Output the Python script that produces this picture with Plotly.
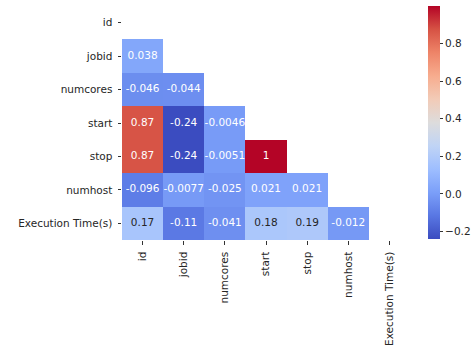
import plotly.graph_objects as go

# Correlation matrix of job attributes (lower triangle, diagonal masked)
labels = ["id", "jobid", "numcores", "start", "stop", "numhost", "Execution Time(s)"]
row_jobid = [0.038]
row_numcores = [-0.046, -0.044]
row_start = [0.87, -0.24, -0.0046]
row_stop = [0.87, -0.24, -0.0051, 1]
row_numhost = [-0.096, -0.0077, -0.025, 0.021, 0.021]
row_exec = [0.17, -0.11, -0.041, 0.18, 0.19, -0.012]

lower_rows = [[], row_jobid, row_numcores, row_start, row_stop, row_numhost, row_exec]
n = len(labels)
z = [r + [None] * (n - len(r)) for r in lower_rows]

zmin, zmax = -0.24, 1.0

# matplotlib "coolwarm" sampled at 11 points
cw = ["#3b4cc0", "#5977e3", "#7b9ff9", "#9ebeff", "#c0d4f5", "#dddcdc",
      "#f2cbb7", "#f7ac8e", "#ee8468", "#d65244", "#b40426"]
colorscale = [[i / 10, c] for i, c in enumerate(cw)]


def hex2rgb(h):
    h = h.lstrip("#")
    return [int(h[i:i + 2], 16) / 255 for i in (0, 2, 4)]


def color_at(v):
    t = (v - zmin) / (zmax - zmin)
    t = min(max(t, 0), 1) * 10
    i = min(int(t), 9)
    f = t - i
    a, b = hex2rgb(cw[i]), hex2rgb(cw[i + 1])
    return [a[k] + (b[k] - a[k]) * f for k in range(3)]


def luminance(rgb):
    lin = [c / 12.92 if c <= 0.03928 else ((c + 0.055) / 1.055) ** 2.4 for c in rgb]
    return 0.2126 * lin[0] + 0.7152 * lin[1] + 0.0722 * lin[2]


tx, ty, tt, tc = [], [], [], []
for ri, r in enumerate(lower_rows):
    for ci, v in enumerate(r):
        tx.append(labels[ci])
        ty.append(labels[ri])
        tt.append(format(v, ".2g"))
        tc.append("#262626" if luminance(color_at(v)) > 0.408 else "white")

FS = 10.5

fig = go.Figure()
fig.add_trace(go.Heatmap(
    z=z, x=labels, y=labels, zmin=zmin, zmax=zmax,
    colorscale=colorscale, hoverongaps=False, xgap=0, ygap=0,
    colorbar=dict(
        thickness=12, lenmode="pixels", len=233, x=1.061, xanchor="left",
        y=1, yanchor="top", outlinewidth=0, xpad=0, ypad=0,
        tickvals=[-0.2, 0.0, 0.2, 0.4, 0.6, 0.8], tickformat=".1f",
        ticks="outside", ticklen=3.5, tickcolor="#333333",
        tickfont=dict(family="DejaVu Sans", size=FS, color="#262626"),
    ),
))
fig.add_trace(go.Scatter(
    x=tx, y=ty, text=tt, mode="text", hoverinfo="skip", showlegend=False,
    textfont=dict(family="DejaVu Sans", size=FS, color=tc),
))

axis_common = dict(
    showgrid=False, zeroline=False, showline=False, automargin=False,
    ticks="outside", ticklen=3.5, tickcolor="#333333",
    ticklabelstandoff=3,
    tickfont=dict(family="DejaVu Sans", size=FS, color="#262626"),
)
fig.update_xaxes(categoryorder="array", categoryarray=labels, tickangle=-90, **axis_common)
fig.update_yaxes(categoryorder="array", categoryarray=labels, autorange="reversed", **axis_common)

fig.update_layout(
    width=474, height=347,
    margin=dict(l=122, r=64, t=6, b=107, autoexpand=False),
    paper_bgcolor="white", plot_bgcolor="white",
    font=dict(family="DejaVu Sans", size=FS, color="#262626"),
)

fig.write_html("out.html")
